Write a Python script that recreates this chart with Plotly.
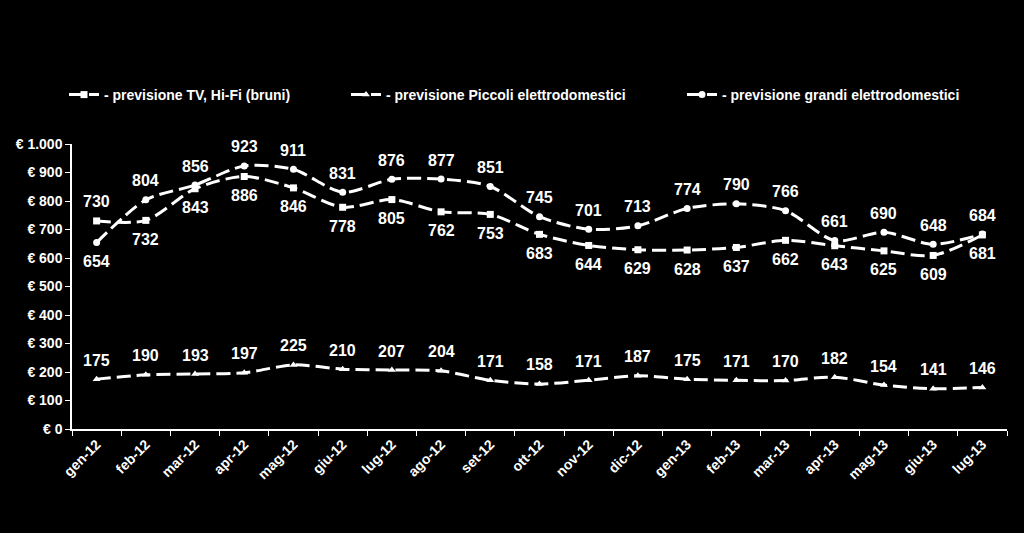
import plotly.graph_objects as go

months = ["gen-12", "feb-12", "mar-12", "apr-12", "mag-12", "giu-12", "lug-12", "ago-12",
          "set-12", "ott-12", "nov-12", "dic-12", "gen-13", "feb-13", "mar-13", "apr-13",
          "mag-13", "giu-13", "lug-13"]
tv_hifi = [730, 732, 843, 886, 846, 778, 805, 762, 753, 683, 644, 629, 628, 637, 662, 643, 625, 609, 681]
piccoli = [175, 190, 193, 197, 225, 210, 207, 204, 171, 158, 171, 187, 175, 171, 170, 182, 154, 141, 146]
grandi = [654, 804, 856, 923, 911, 831, 876, 877, 851, 745, 701, 713, 774, 790, 766, 661, 690, 648, 684]
tick_vals = [0, 100, 200, 300, 400, 500, 600, 700, 800, 900, 1000]
tick_text = ["€ 0", "€ 100", "€ 200", "€ 300", "€ 400", "€ 500", "€ 600", "€ 700", "€ 800", "€ 900", "€ 1.000"]

FONT = "Liberation Sans"
DASH = "14px,6px"

series = [
    ("- previsione TV, Hi-Fi (bruni)", tv_hifi, "square", "legend"),
    ("- previsione Piccoli elettrodomestici", piccoli, "triangle-up", "legend2"),
    ("- previsione grandi elettrodomestici", grandi, "circle", "legend3"),
]

fig = go.Figure()
for name, vals, sym, leg in series:
    fig.add_trace(go.Scatter(
        x=months, y=vals, name=name, mode="lines+markers",
        line=dict(color="white", width=3, dash=DASH, shape="spline", smoothing=0.8),
        marker=dict(symbol=sym, size=7, color="white"),
        legend=leg, hoverinfo="skip",
    ))

annotations = []
def add_labels(vals, above_flags):
    for m, v, above in zip(months, vals, above_flags):
        annotations.append(dict(
            x=m, y=v, xref="x", yref="y", text=f"<b>{v}</b>", showarrow=False,
            yshift=19 if above else -19, yanchor="middle",
            font=dict(family=FONT, size=16, color="white"),
        ))

add_labels(tv_hifi, [i == 0 for i in range(len(months))])
add_labels(grandi, [i != 0 for i in range(len(months))])
add_labels(piccoli, [True] * len(months))

leg_common = dict(orientation="h", yanchor="middle", y=1.0 + (144 - 95) / 285.0,
                  xanchor="left", bgcolor="rgba(0,0,0,0)", itemwidth=30,
                  font=dict(family=FONT, size=14, color="white", weight="bold"))
fig.update_layout(
    legend=dict(x=(64 - 72) / 935.0, **leg_common),
    legend2=dict(x=(346 - 72) / 935.0, **leg_common),
    legend3=dict(x=(682 - 72) / 935.0, **leg_common),
    annotations=annotations,
    width=1024, height=533,
    margin=dict(l=72, r=17, t=144, b=104),
    paper_bgcolor="black", plot_bgcolor="black",
    font=dict(family=FONT, color="white"),
    xaxis=dict(
        type="category", range=[-0.5, len(months) - 0.5],
        showgrid=False, zeroline=False,
        showline=True, linecolor="white", linewidth=1.5,
        ticks="outside", tickson="boundaries", ticklen=5, tickcolor="white",
        tickangle=-45, tickfont=dict(family=FONT, size=14, color="white", weight="bold"),
    ),
    yaxis=dict(
        range=[0, 1000], tickvals=tick_vals, ticktext=tick_text,
        showgrid=False, zeroline=False,
        showline=True, linecolor="white", linewidth=1.5,
        ticks="outside", ticklen=5, tickcolor="white",
        tickfont=dict(family=FONT, size=14, color="white", weight="bold"),
    ),
    showlegend=True,
)

fig.write_html("out.html")
